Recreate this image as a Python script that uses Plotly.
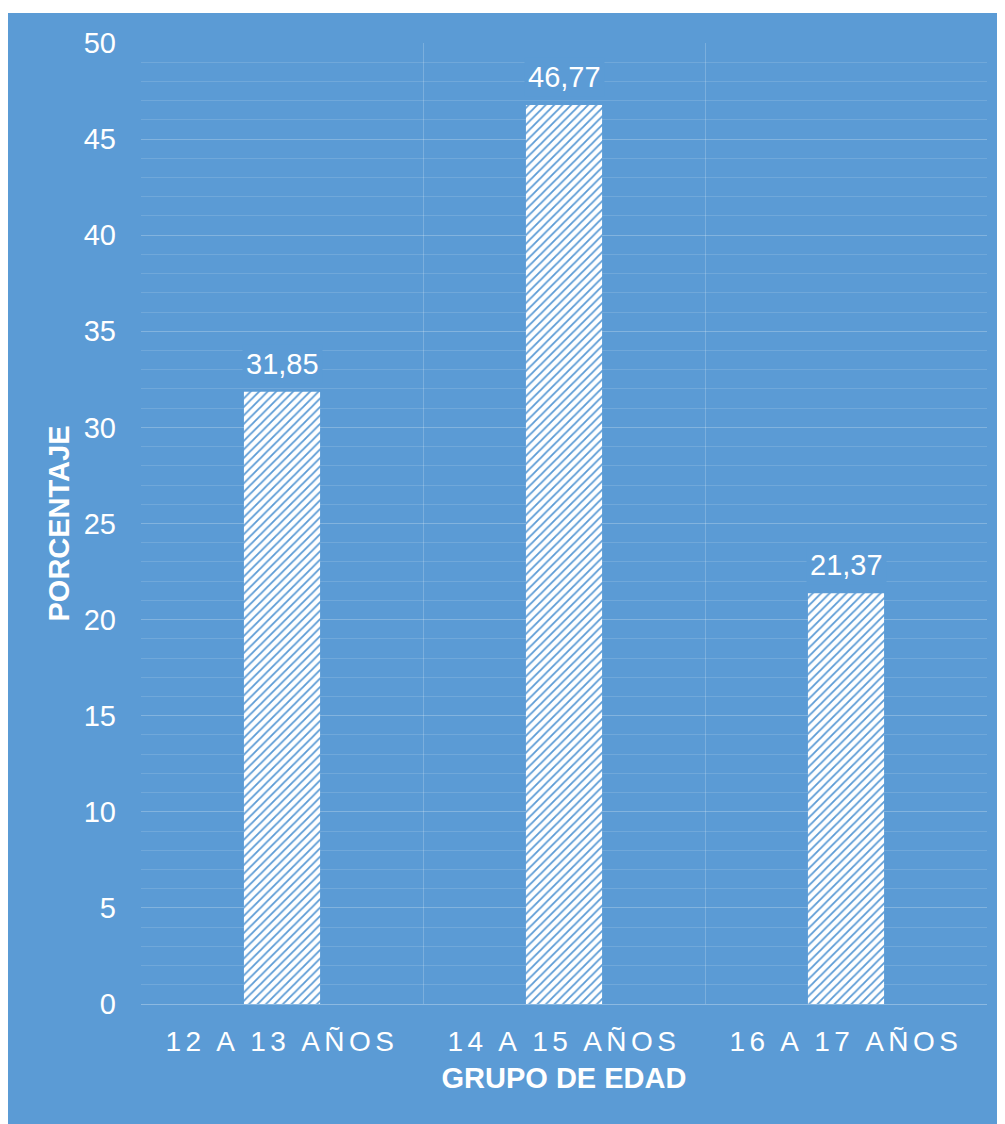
import plotly.graph_objects as go

categories = ["12 A 13 AÑOS", "14 A 15 AÑOS", "16 A 17 AÑOS"]
values = [31.85, 46.77, 21.37]
y_tick_values = [0, 5, 10, 15, 20, 25, 30, 35, 40, 45, 50]

BLUE = "#5B9BD5"
FONT = "Liberation Sans, Arial, sans-serif"
labels = [f"{v:.2f}".replace(".", ",") for v in values]
tick_text = [f'<span style="letter-spacing:4.5px">{c}</span>' for c in categories]

# page body has an 8px margin; figure sized accordingly
W, H = 997, 1116
L, T = 133, 35
PW, PH = 846, 961
R = W - L - PW
B = H - T - PH

fig = go.Figure()
fig.add_trace(go.Bar(
    x=categories, y=values, width=0.27,
    marker=dict(color="white", line=dict(width=0),
                pattern=dict(shape="/", fgcolor=BLUE, bgcolor="white",
                             size=6, solidity=0.3, fillmode="replace")),
    hoverinfo="skip",
))

for c, v, t in zip(categories, values, labels):
    fig.add_annotation(x=c, y=v, text=t, showarrow=False, yanchor="bottom",
                       yshift=8, bgcolor=BLUE, borderpad=3,
                       font=dict(family=FONT, size=29, color="white"))

fig.add_shape(type="rect", xref="paper", yref="paper",
              x0=(-1 - L) / PW, x1=1.2, y0=-0.3, y1=(T + PH - 5) / PH,
              fillcolor=BLUE, line=dict(width=0), layer="below")

fig.update_layout(
    width=W, height=H,
    margin=dict(l=L, r=R, t=T, b=B),
    paper_bgcolor="white", plot_bgcolor="rgba(0,0,0,0)",
    showlegend=False,
    font=dict(family=FONT, color="white"),
)
fig.update_xaxes(
    tickmode="array", tickvals=categories, ticktext=tick_text,
    tickfont=dict(size=28, color="white"),
    showgrid=True, gridcolor="rgba(255,255,255,0.2)", gridwidth=1,
    tickson="boundaries", ticks="", ticklabelstandoff=12,
    showline=True, linecolor="rgba(255,255,255,0.3)", linewidth=1,
    title=dict(text="<b>GRUPO DE EDAD</b>", font=dict(size=29, color="white"),
               standoff=12),
)
fig.update_yaxes(
    range=[0, 50], tickmode="array", tickvals=y_tick_values,
    tickfont=dict(size=29, color="white"),
    showgrid=True, gridcolor="rgba(255,255,255,0.13)", gridwidth=1,
    zeroline=False, ticks="", ticklabelstandoff=24,
    minor=dict(dtick=1, showgrid=True, gridcolor="rgba(255,255,255,0.13)", gridwidth=1),
    title=dict(text="<b>PORCENTAJE</b>", font=dict(size=29, color="white"),
               standoff=5),
)

fig.write_html("out.html")
